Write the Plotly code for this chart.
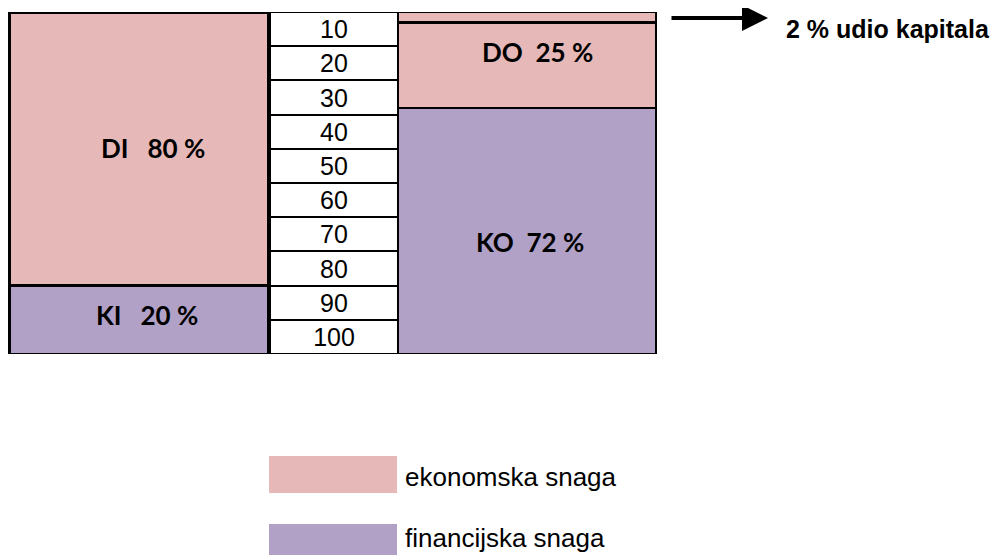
import plotly.graph_objects as go

# ---- data ----
left_labels = ["DI", "KI"]
left_values = [80, 20]
left_kind = ["ekonomska snaga", "financijska snaga"]

right_labels = ["udio kapitala", "DO", "KO"]
right_values = [3, 25, 72]
right_kind = ["ekonomska snaga", "ekonomska snaga", "financijska snaga"]

scale_ticks = [10, 20, 30, 40, 50, 60, 70, 80, 90, 100]

capital_share_text = "2 % udio kapitala"
legend_items = ["ekonomska snaga", "financijska snaga"]

# ---- style ----
colors = {"ekonomska snaga": "#E6B8B7", "financijska snaga": "#B2A1C7"}
W, H = 1005, 555
OFF = 8                      # page body margin
top_px, bot_px = 12, 354     # screen rows of value 0 and 100

def py(p):  # screen row -> data value (y reversed 0..100)
    return (p - top_px) / (bot_px - top_px) * 100

def ppaper(p):
    return (bot_px - p) / (bot_px - top_px)

left_x, left_w = 138.5, 259
mid_x, mid_w = 334, 128
right_x, right_w = 527, 258

fig = go.Figure()

for lab, val, kind in zip(left_labels, left_values, left_kind):
    fig.add_trace(go.Bar(x=[left_x], y=[val], width=[left_w],
                         marker=dict(color=colors[kind], line=dict(color="black", width=3)),
                         hoverinfo="skip", showlegend=False))

prev = 0
for t in scale_ticks:
    fig.add_trace(go.Bar(x=[mid_x], y=[t - prev], width=[mid_w],
                         marker=dict(color="white", line=dict(color="black", width=2)),
                         text=[str(t)], textposition="inside", insidetextanchor="middle",
                         textfont=dict(family="Liberation Sans, Arial", size=25, color="black"),
                         hoverinfo="skip", showlegend=False))
    prev = t

for lab, val, kind in zip(right_labels, right_values, right_kind):
    fig.add_trace(go.Bar(x=[right_x], y=[val], width=[right_w],
                         marker=dict(color=colors[kind], line=dict(color="black", width=2.5)),
                         hoverinfo="skip", showlegend=False))

label_font = dict(family="Lato, Carlito, Calibri", size=26, color="black")
anns = []
label_pos = {"DI": (153, 148), "KI": (147, 315), "DO": (537, 52), "KO": (530, 242)}
texts = {"DI": f"DI   {left_values[0]} %", "KI": f"KI   {left_values[1]} %",
         "DO": f"DO  {right_values[1]} %", "KO": f"KO  {right_values[2]} %"}
for k, (x, p) in label_pos.items():
    anns.append(dict(x=x, y=py(p), xref="x", yref="y", text="<b>" + texts[k] + "</b>",
                     showarrow=False, font=label_font))

# arrow
anns.append(dict(x=768, y=py(18), ax=670, ay=py(18), xref="x", yref="y", axref="x", ayref="y",
                 text="", showarrow=True, arrowhead=2, arrowsize=1.3, arrowwidth=4, arrowcolor="black"))
anns.append(dict(x=784, y=py(29), xref="x", yref="y", text="<b>" + capital_share_text + "</b>",
                 showarrow=False, xanchor="left",
                 font=dict(family="Liberation Sans, Arial", size=25, color="black")))

shapes = []
leg_rows = [(456, 493, 477), (524, 570, 538)]
for item, (y0, y1, yt) in zip(legend_items, leg_rows):
    shapes.append(dict(type="rect", xref="x", yref="paper", x0=269, x1=397,
                       y0=ppaper(y1), y1=ppaper(y0), fillcolor=colors[item], line=dict(width=0)))
    anns.append(dict(x=403, y=ppaper(yt), xref="x", yref="paper", text=item, showarrow=False,
                     xanchor="left", yanchor="middle",
                     font=dict(family="Liberation Sans, Arial", size=26, color="black")))

fig.update_layout(
    width=W, height=H, barmode="stack",
    margin=dict(l=0, r=0, t=top_px - OFF, b=H - (bot_px - OFF)),
    plot_bgcolor="white", paper_bgcolor="white",
    xaxis=dict(range=[OFF, W + OFF], visible=False, fixedrange=True),
    yaxis=dict(range=[100, 0], visible=False, fixedrange=True),
    annotations=anns, shapes=shapes,
)
fig.write_html("out.html")
